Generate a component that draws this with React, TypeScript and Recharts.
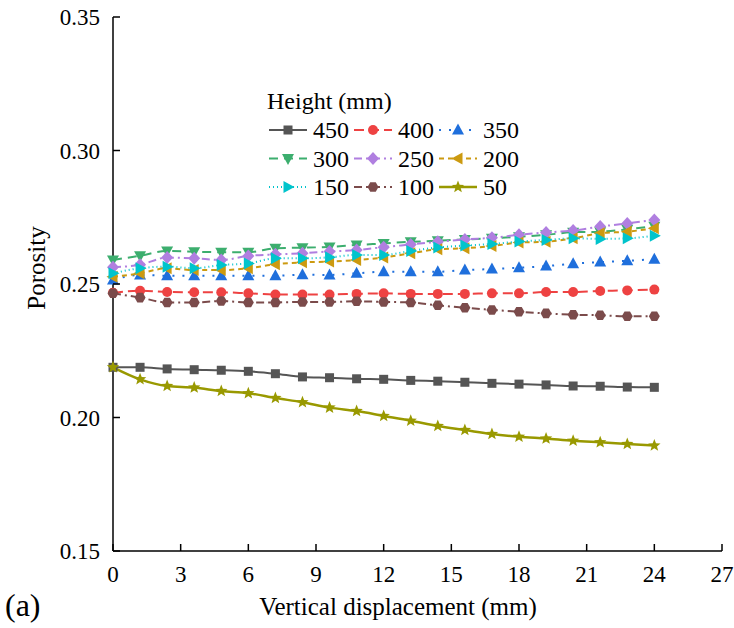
import { LineChart, Line, XAxis, YAxis, Customized } from 'recharts';

// vertical displacement (mm)
const displacement = [0, 1.2, 2.4, 3.6, 4.8, 6, 7.2, 8.4, 9.6, 10.8, 12, 13.2, 14.4, 15.6, 16.8, 18, 19.2, 20.4, 21.6, 22.8, 24];

// porosity per height (mm)
const h450 = [0.2188, 0.2188, 0.2182, 0.2179, 0.2177, 0.2173, 0.2164, 0.2152, 0.2149, 0.2145, 0.2143, 0.2139, 0.2136, 0.2132, 0.2128, 0.2125, 0.2122, 0.2118, 0.2117, 0.2114, 0.2113];
const h400 = [0.2467, 0.2475, 0.247, 0.2469, 0.2469, 0.2465, 0.2461, 0.2461, 0.2461, 0.2463, 0.2465, 0.2463, 0.2463, 0.2463, 0.2465, 0.2465, 0.247, 0.247, 0.2474, 0.2476, 0.2479];
const h350 = [0.2515, 0.2534, 0.2531, 0.2531, 0.2531, 0.2531, 0.2531, 0.2535, 0.2534, 0.254, 0.2546, 0.2546, 0.2546, 0.2552, 0.2556, 0.2561, 0.2567, 0.2576, 0.2582, 0.2587, 0.2593];
const h300 = [0.259, 0.2606, 0.2624, 0.2621, 0.2619, 0.2619, 0.2634, 0.2636, 0.2639, 0.2646, 0.2652, 0.2658, 0.2662, 0.2667, 0.2671, 0.2677, 0.2684, 0.2694, 0.2696, 0.2705, 0.2716];
const h250 = [0.2563, 0.2572, 0.2599, 0.2596, 0.259, 0.2605, 0.2611, 0.2615, 0.2622, 0.2627, 0.2638, 0.2648, 0.2658, 0.2667, 0.2673, 0.2684, 0.2693, 0.27, 0.2715, 0.2727, 0.274];
const h200 = [0.2527, 0.254, 0.2559, 0.2552, 0.2552, 0.2559, 0.2574, 0.2581, 0.2584, 0.259, 0.2599, 0.2615, 0.263, 0.2634, 0.2642, 0.2655, 0.2658, 0.2671, 0.269, 0.2696, 0.2709];
const h150 = [0.254, 0.2559, 0.2565, 0.2559, 0.2571, 0.2577, 0.2596, 0.2596, 0.26, 0.2609, 0.2609, 0.2624, 0.2637, 0.2644, 0.265, 0.2659, 0.2665, 0.2671, 0.2669, 0.2671, 0.2681];
const h100 = [0.2465, 0.2449, 0.2431, 0.2431, 0.2436, 0.2431, 0.2431, 0.2433, 0.2433, 0.2435, 0.2433, 0.2431, 0.242, 0.2411, 0.2403, 0.2396, 0.239, 0.2385, 0.2383, 0.2379, 0.2379];
const h50 = [0.2188, 0.2143, 0.2118, 0.2112, 0.2099, 0.2091, 0.2073, 0.2057, 0.2037, 0.2024, 0.2006, 0.1988, 0.1968, 0.1953, 0.1938, 0.1928, 0.1921, 0.1913, 0.1907, 0.1901, 0.1895];

const xTicks = [0, 3, 6, 9, 12, 15, 18, 21, 24, 27];
const yTicks = [0.15, 0.2, 0.25, 0.3, 0.35];

const data = displacement.map((x, i) => ({
  x,
  h450: h450[i],
  h400: h400[i],
  h350: h350[i],
  h300: h300[i],
  h250: h250[i],
  h200: h200[i],
  h150: h150[i],
  h100: h100[i],
  h50: h50[i],
}));

type Shape = 'square' | 'circle' | 'up' | 'down' | 'diamond' | 'left' | 'right' | 'hex' | 'star';

const series: { key: string; label: string; color: string; dash?: string; shape: Shape; width: number }[] = [
  { key: 'h450', label: '450', color: '#555555', shape: 'square', width: 2 },
  { key: 'h400', label: '400', color: '#ee4242', dash: '10 5', shape: 'circle', width: 2 },
  { key: 'h350', label: '350', color: '#1f6fdc', dash: '2 8', shape: 'up', width: 2 },
  { key: 'h300', label: '300', color: '#3cae6e', dash: '9 6', shape: 'down', width: 2 },
  { key: 'h250', label: '250', color: '#b07fe0', dash: '8 4 2 4', shape: 'diamond', width: 2 },
  { key: 'h200', label: '200', color: '#cc9a10', dash: '5 4', shape: 'left', width: 2 },
  { key: 'h150', label: '150', color: '#00c4cc', dash: '1 3', shape: 'right', width: 2 },
  { key: 'h100', label: '100', color: '#7b4b4b', dash: '8 4 2 4', shape: 'hex', width: 2 },
  { key: 'h50', label: '50', color: '#999900', shape: 'star', width: 2.5 },
];

const FONT = '"Liberation Serif", "DejaVu Serif", serif';
const TICK_MARGIN_Y = 13;
const TICK_MARGIN_X = 15;

const poly = (cx: number, cy: number, pts: number[][]) =>
  pts.map(([dx, dy]) => `${cx + dx},${cy + dy}`).join(' ');

const hexPts = [0, 1, 2, 3, 4, 5].map((k) => {
  const a = (Math.PI / 3) * k;
  return [5.5 * Math.cos(a), 5.5 * Math.sin(a)];
});
const starPts = Array.from({ length: 10 }, (_, k) => {
  const a = -Math.PI / 2 + (Math.PI / 5) * k;
  const r = k % 2 === 0 ? 6.5 : 2.8;
  return [r * Math.cos(a), r * Math.sin(a)];
});

function Marker({ cx, cy, shape, color }: { cx: number; cy: number; shape: Shape; color: string }) {
  if (cx == null || cy == null || isNaN(cx) || isNaN(cy)) return null;
  switch (shape) {
    case 'square':
      return <rect x={cx - 4.5} y={cy - 4.5} width={9} height={9} fill={color} />;
    case 'circle':
      return <circle cx={cx} cy={cy} r={5} fill={color} />;
    case 'up':
      return <polygon points={poly(cx, cy, [[0, -6.5], [-6, 4.5], [6, 4.5]])} fill={color} />;
    case 'down':
      return <polygon points={poly(cx, cy, [[0, 6.5], [-6, -4.5], [6, -4.5]])} fill={color} />;
    case 'diamond':
      return <polygon points={poly(cx, cy, [[0, -6.5], [6, 0], [0, 6.5], [-6, 0]])} fill={color} />;
    case 'left':
      return <polygon points={poly(cx, cy, [[-6.5, 0], [4.5, -6], [4.5, 6]])} fill={color} />;
    case 'right':
      return <polygon points={poly(cx, cy, [[6.5, 0], [-4.5, -6], [-4.5, 6]])} fill={color} />;
    case 'hex':
      return <polygon points={poly(cx, cy, hexPts)} fill={color} />;
    case 'star':
      return <polygon points={poly(cx, cy, starPts)} fill={color} />;
  }
  return null;
}

const txt = (size: number) => ({ fontFamily: FONT, fontSize: size, fill: '#000' });

const YTick = (props: any) => {
  const { x, y, payload } = props;
  const axisX = x + TICK_MARGIN_Y;
  return (
    <g>
      <line x1={axisX} x2={axisX + 7} y1={y} y2={y} stroke="#000" strokeWidth={1.5} />
      <text x={x} y={y} dy="0.35em" textAnchor="end" style={txt(23)}>
        {Number(payload.value).toFixed(2)}
      </text>
    </g>
  );
};

const XTick = (props: any) => {
  const { x, y, payload } = props;
  const axisY = y - TICK_MARGIN_X;
  return (
    <g>
      <line x1={x} x2={x} y1={axisY} y2={axisY - 7} stroke="#000" strokeWidth={1.5} />
      <text x={x} y={y} dy="0.71em" textAnchor="middle" style={txt(23)}>
        {payload.value}
      </text>
    </g>
  );
};

function Annotations() {
  return (
    <g>
      <text x={45} y={268} transform="rotate(-90 45 268)" textAnchor="middle" style={txt(25)}>
        Porosity
      </text>
      <text x={398} y={615} textAnchor="middle" style={txt(25)}>
        Vertical displacement (mm)
      </text>
      <text x={5} y={616} style={txt(32)}>
        (a)
      </text>
      <text x={267} y={109} style={txt(24)}>
        Height (mm)
      </text>
      {series.map((s, i) => {
        const col = i % 3;
        const row = Math.floor(i / 3);
        const x0 = 269 + col * 85;
        const cy = 130 + row * 28.5;
        return (
          <g key={s.key}>
            <line x1={x0} x2={x0 + 38} y1={cy} y2={cy} stroke={s.color} strokeWidth={s.width} strokeDasharray={s.dash} />
            <Marker cx={x0 + 19} cy={cy} shape={s.shape} color={s.color} />
            <text x={x0 + 44} y={cy + 8} style={txt(24)}>
              {s.label}
            </text>
          </g>
        );
      })}
    </g>
  );
}

export default function App() {
  return (
    <div style={{ position: 'absolute', left: 0, top: 0, fontFamily: FONT }}>
      <LineChart width={734} height={628} data={data} margin={{ top: 17, right: 12, bottom: 17, left: 0 }}>
        <XAxis
          dataKey="x"
          type="number"
          domain={[0, 27]}
          ticks={xTicks}
          height={60}
          axisLine={{ stroke: '#000', strokeWidth: 1.5 }}
          tickLine={false}
          tickSize={0}
          tickMargin={TICK_MARGIN_X}
          tick={<XTick />}
          interval={0}
        />
        <YAxis
          type="number"
          domain={[0.15, 0.35]}
          ticks={yTicks}
          width={113}
          axisLine={{ stroke: '#000', strokeWidth: 1.5 }}
          tickLine={false}
          tickSize={0}
          tickMargin={TICK_MARGIN_Y}
          tick={<YTick />}
          interval={0}
        />
        {series.map((s) => (
          <Line
            key={s.key}
            dataKey={s.key}
            type="monotone"
            stroke={s.color}
            strokeWidth={s.width}
            strokeDasharray={s.dash}
            isAnimationActive={false}
            activeDot={false}
            dot={(p: any) => <Marker key={`${s.key}-${p.index}`} cx={p.cx} cy={p.cy} shape={s.shape} color={s.color} />}
          />
        ))}
        <Customized component={Annotations} />
      </LineChart>
    </div>
  );
}
